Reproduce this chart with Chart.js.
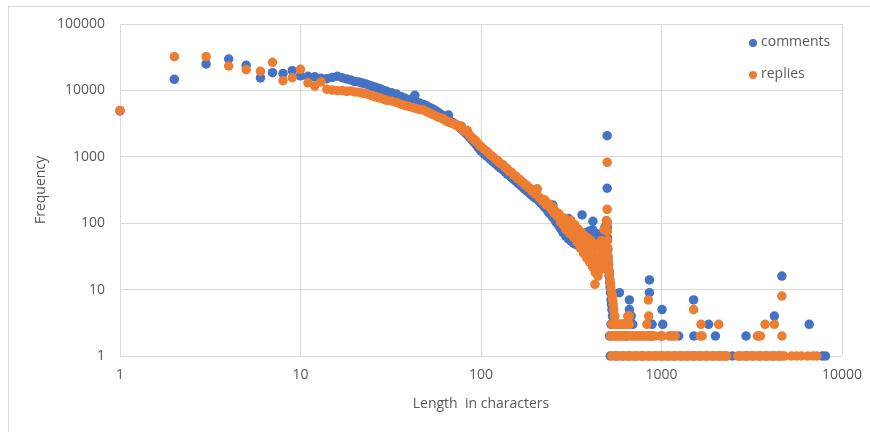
<!DOCTYPE html>
<html>
<head>
<meta charset="utf-8">
<script src="https://cdn.jsdelivr.net/npm/chart.js@4/dist/chart.umd.min.js"></script>
<style>
  html, body { margin: 0; padding: 0; background: #ffffff; }
  #wrap { position: relative; width: 870px; height: 432px; }
</style>
</head>
<body>
<div id="wrap"><canvas id="chart" width="870" height="432"></canvas></div>
<script>
// Comment / reply length in characters along the main curve
const mainLengths = [
  1, 2, 3, 4, 5, 6, 7, 8, 9, 10, 11, 12, 13, 14, 15, 16, 17, 18, 19, 20,
  21, 22, 23, 24, 25, 26, 27, 28, 29, 30,
  32, 34, 36, 38, 40, 42, 44, 46, 48, 50, 52, 54, 56, 58, 60, 62, 64, 66, 68, 70,
  72, 74, 76, 78, 80, 82, 84, 86, 88, 90, 92, 94, 96, 98, 100,
  104, 108, 112, 116, 120, 124, 128, 132, 136, 140, 144, 148, 152, 156, 160,
  164, 168, 172, 176, 180, 184, 188, 192, 196, 200,
  205, 210, 215, 220, 225, 230, 235, 240, 245, 250, 255, 260, 265, 270, 275,
  280, 285, 290, 295, 300, 305, 310, 315, 320, 325, 330, 335, 340, 345, 350,
  355, 360, 365, 370, 375, 380, 385, 390, 395, 400, 405, 410, 415, 420, 425,
  430, 435, 440, 445, 450, 455, 460, 465, 470, 475, 480, 485, 490, 495
];

// How many comments have each of those lengths
const commentsMain = [
  4900, 14700, 25000, 29700, 23900, 15400, 18500, 17900, 19800, 16600,
  16300, 16000, 15200, 15000, 15700, 16300, 15500, 14900, 14300, 13600,
  13400, 12900, 12500, 12000, 11500, 11200, 10800, 10400, 10000, 9700,
  9200, 8800, 8100, 7600, 7300, 7000, 6700, 6400, 6150, 5850, 5550, 5250, 4950, 4650, 4350,
  4100, 3850, 3600, 3400, 3250, 3100, 2950, 2750, 2600, 2450, 2300, 2150, 2000, 1870, 1750,
  1630, 1520, 1410, 1310, 1220,
  1110, 1010, 930, 850, 790, 730, 680, 640, 590, 550, 520, 485, 455, 430, 400,
  380, 360, 340, 320, 305, 290, 275, 262, 250, 238,
  235, 215, 200, 188, 175, 165, 150, 140, 135, 122, 118, 105, 100, 92, 85,
  80, 72, 75, 64, 68, 58, 62, 54, 60, 50, 58, 48, 55, 46, 62,
  44, 58, 48, 66, 52, 72, 56, 62, 75, 54, 68, 50, 80, 58, 62,
  48, 70, 52, 60, 45, 58, 42, 65, 50, 72, 55, 85, 62, 95
];

// How many replies have each of those lengths
const repliesMain = [
  5000, 32200, 32200, 23300, 20500, 19400, 26500, 14000, 15500, 20800,
  13000, 11600, 13400, 10400, 10100, 9900, 10000, 9700, 9800, 9500,
  9400, 9100, 8900, 8600, 8300, 8000, 7800, 7600, 7300, 7100,
  6900, 6600, 6200, 5900, 5700, 5500, 5300, 5150, 5050, 4800, 4550, 4350, 4150, 3950, 3850,
  3700, 3500, 3350, 3250, 3150, 3050, 2950, 2800, 2900, 2500, 2400, 2500, 2150, 2000, 1900,
  1800, 1700, 1600, 1500, 1420,
  1300, 1200, 1080, 1010, 920, 870, 790, 760, 690, 660, 600, 580, 530, 510, 470,
  455, 420, 405, 375, 365, 340, 330, 305, 300, 275,
  330, 245, 232, 215, 225, 188, 198, 185, 160, 175, 140, 150, 128, 140, 105,
  118, 95, 120, 80, 100, 92, 70, 110, 80, 62, 95, 70, 52, 82, 60,
  42, 72, 50, 35, 65, 45, 30, 60, 40, 26, 55, 35, 22, 50, 32,
  18, 45, 28, 16, 42, 26, 20, 55, 33, 22, 80, 45, 28, 110
];

// Scattered comment lengths off the main curve: [length, count]
const commentsExtra = [
  [43, 8430], [66, 4260], [250, 188], [305, 118], [363, 133], [417, 107],
  [500, 2080], [500, 336], [500, 105],
  [501, 85], [502, 60], [504, 40], [506, 30], [508, 24], [510, 19], [515, 18],
  [512, 16], [516, 13], [519, 11], [522, 9], [525, 7], [528, 6], [531, 5],
  [535, 4], [540, 3], [515, 2], [525, 3], [545, 3], [575, 3], [610, 3], [640, 2],
  [585, 9], [664, 7], [664, 5], [680, 4], [693, 3],
  [857, 14], [857, 9], [887, 3], [875, 2], [1007, 5], [1016, 3], [1245, 2],
  [1506, 7], [1510, 2], [1825, 3], [1990, 2], [2940, 2],
  [4220, 4], [4645, 16], [6580, 3]
];

// Scattered reply lengths off the main curve: [length, count]
const repliesExtra = [
  [428, 12], [500, 826], [500, 162],
  [501, 100], [502, 75], [503, 55], [504, 42], [506, 32], [508, 26], [511, 20],
  [514, 17], [518, 14], [522, 12], [526, 10], [530, 9], [534, 8], [537, 7],
  [540, 6], [544, 5], [548, 4], [552, 4], [556, 3], [560, 3],
  [530, 3], [540, 3], [550, 3], [565, 3], [580, 3], [595, 3], [610, 3], [625, 3],
  [640, 3], [655, 3], [665, 3], [830, 3], [1655, 3], [2074, 3], [3750, 3], [4220, 3],
  [650, 4], [664, 4], [850, 4], [1506, 5], [845, 7], [4645, 8],
  [520, 2], [530, 2], [540, 2], [550, 2], [560, 2], [570, 2], [580, 2], [590, 2],
  [600, 2], [612, 2], [625, 2], [640, 2], [655, 2], [670, 2], [685, 2], [700, 2],
  [716, 2], [732, 2], [750, 2], [765, 2], [780, 2], [800, 2], [820, 2], [840, 2],
  [860, 2], [880, 2], [900, 2], [920, 2], [985, 2], [1000, 2], [1010, 2], [1100, 2],
  [1125, 2], [1150, 2], [1170, 2], [1190, 2], [1640, 2], [1680, 2],
  [3400, 2], [3450, 2], [3530, 2], [4645, 2]
];

// Lengths that occur exactly once
const commentsOnce = [
  520, 560, 610, 660, 720, 780, 850, 920, 1000, 1090, 1180, 1280, 1390, 1510,
  1640, 1780, 1930, 2100, 2280, 2467, 2700, 2950, 3200, 3500, 3800, 4150, 4500,
  7770, 8100
];
const repliesOnce = [
  530, 550, 570, 590, 615, 640, 665, 690, 715, 745, 775, 805, 835, 870, 905,
  940, 975, 1010, 1050, 1090, 1135, 1180, 1225, 1275, 1325, 1375, 1430, 1485,
  1545, 1605, 1670, 1735, 1800, 1870, 1945, 2020, 2100, 2180, 2240, 2300,
  2640, 2740, 2850, 2960, 3080, 3200, 3330, 3460, 3600, 3740, 3890, 4040, 4200,
  4360, 4500, 4660, 4800, 5250, 5600, 5950, 6450, 6900, 7250
];

const xTickValues = [1, 10, 100, 1000, 10000];
const xTickLabels = ['1', '10', '100', '1000', '10000'];
const yTickValues = [1, 10, 100, 1000, 10000, 100000];
const yTickLabels = ['1', '10', '100', '1000', '10000', '100000'];

const BLUE = '#4472C4';
const ORANGE = '#ED7D31';
const GRID = '#d9d9d9';
const TEXT = '#595959';

function toPoints(lengths, counts) {
  return lengths.map((len, i) => ({ x: len, y: counts[i] }));
}
function pairPoints(pairs) {
  return pairs.map(([len, n]) => ({ x: len, y: n }));
}
function singlePoints(lengths) {
  return lengths.map(len => ({ x: len, y: 1 }));
}

const commentsData = [
  ...toPoints(mainLengths, commentsMain),
  ...pairPoints(commentsExtra),
  ...singlePoints(commentsOnce)
];
const repliesData = [
  ...toPoints(mainLengths, repliesMain),
  ...pairPoints(repliesExtra),
  ...singlePoints(repliesOnce)
];

Chart.defaults.font.family = "'Open Sans', 'DejaVu Sans', sans-serif";
Chart.defaults.font.size = 14;
Chart.defaults.color = TEXT;

// Thin frame along the top and left of the chart
const framePlugin = {
  id: 'frame',
  beforeDraw(chart) {
    const ctx = chart.ctx;
    ctx.save();
    ctx.strokeStyle = GRID;
    ctx.lineWidth = 1;
    ctx.beginPath();
    ctx.moveTo(8.5, 432);
    ctx.lineTo(8.5, 6.5);
    ctx.lineTo(870, 6.5);
    ctx.stroke();
    ctx.restore();
  }
};

// Legend inside the plot area, top right
const legendPlugin = {
  id: 'insideLegend',
  afterDraw(chart) {
    const ctx = chart.ctx;
    const items = [
      { label: 'comments', color: BLUE, y: 42 },
      { label: 'replies', color: ORANGE, y: 74 }
    ];
    ctx.save();
    ctx.font = "14px 'Open Sans', 'DejaVu Sans', sans-serif";
    ctx.textBaseline = 'middle';
    ctx.textAlign = 'left';
    items.forEach(it => {
      ctx.fillStyle = it.color;
      ctx.beginPath();
      ctx.arc(753, it.y + 1, 4, 0, Math.PI * 2);
      ctx.fill();
      ctx.fillStyle = TEXT;
      ctx.fillText(it.label, 761, it.y);
    });
    ctx.restore();
  }
};

new Chart(document.getElementById('chart'), {
  type: 'scatter',
  data: {
    datasets: [
      {
        label: 'comments',
        data: commentsData,
        backgroundColor: BLUE,
        borderWidth: 0,
        pointRadius: 4.75,
        clip: false,
        order: 1
      },
      {
        label: 'replies',
        data: repliesData,
        backgroundColor: ORANGE,
        borderWidth: 0,
        pointRadius: 4.75,
        clip: false,
        order: 0
      }
    ]
  },
  options: {
    responsive: false,
    animation: false,
    devicePixelRatio: 1,
    layout: { padding: { left: 0, right: 28, top: 24, bottom: 0 } },
    plugins: {
      legend: { display: false },
      tooltip: { enabled: false }
    },
    scales: {
      x: {
        type: 'logarithmic',
        min: 1,
        max: 10000,
        afterBuildTicks: s => { s.ticks = xTickValues.map(v => ({ value: v })); },
        afterFit: s => { s.height = 76; s.paddingLeft = 0; s.paddingRight = 0; },
        grid: { color: GRID, drawTicks: false, lineWidth: 1 },
        border: { display: false },
        ticks: {
          padding: 11,
          autoSkip: false,
          maxRotation: 0,
          callback: (v, i) => xTickLabels[i]
        },
        title: {
          display: true,
          text: 'Length  in characters',
          color: TEXT,
          padding: { top: 0, bottom: 20 }
        }
      },
      y: {
        type: 'logarithmic',
        min: 1,
        max: 100000,
        afterBuildTicks: s => { s.ticks = yTickValues.map(v => ({ value: v })); },
        afterFit: s => { s.width = 120; s.paddingTop = 0; s.paddingBottom = 0; },
        grid: { color: GRID, drawTicks: false, lineWidth: 1 },
        border: { display: false },
        ticks: {
          padding: 15,
          autoSkip: false,
          callback: (v, i) => yTickLabels[i]
        },
        title: {
          display: true,
          text: 'Frequency',
          color: TEXT,
          padding: { top: 33, bottom: 0 }
        }
      }
    }
  },
  plugins: [framePlugin, legendPlugin]
});
</script>
</body>
</html>
